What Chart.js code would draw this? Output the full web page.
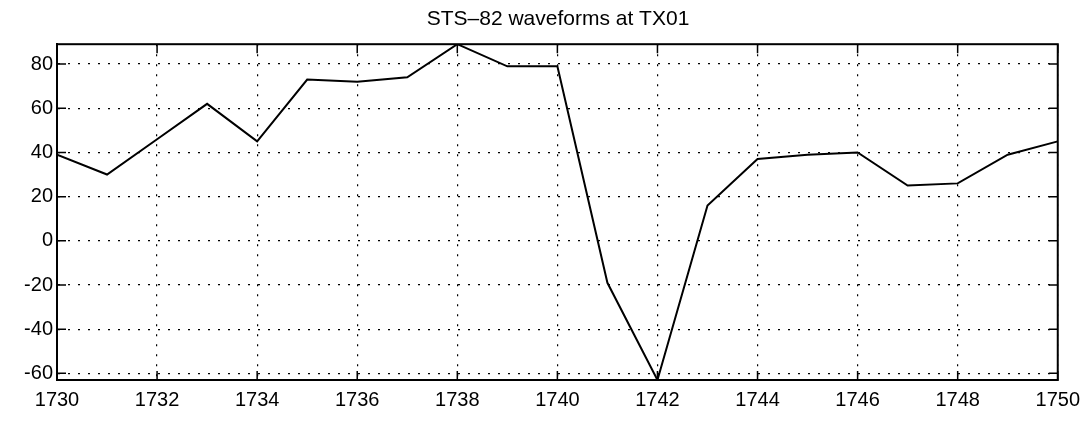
<!DOCTYPE html>
<html>
<head>
<meta charset="utf-8">
<script src="https://cdn.jsdelivr.net/npm/chart.js@4.4.1/dist/chart.umd.min.js"></script>
<style>
  html, body { margin: 0; padding: 0; background: #ffffff; }
  #wrap { width: 1088px; height: 423px; position: relative; }
</style>
</head>
<body>
<div id="wrap"><canvas id="c" width="1088" height="423"></canvas></div>
<script>
const titleText = "STS\u201382 waveforms at TX01";
const years = [1730,1731,1732,1733,1734,1735,1736,1737,1738,1739,1740,1741,1742,1743,1744,1745,1746,1747,1748,1749,1750];
const values = [39, 30, 46, 62, 45, 73, 72, 74, 89, 79, 79, -19, -63, 16, 37, 39, 40, 25, 26, 39, 45];
const xTicks = [1730,1732,1734,1736,1738,1740,1742,1744,1746,1748,1750];
const yTicks = [-60,-40,-20,0,20,40,60,80];
const yMin = -63, yMax = 89;

const shiftTitle = {
  id: 'shiftTitle',
  afterLayout(chart) {
    const t = chart.titleBlock;
    if (t) { t.left += 29; t.right += 29; }
  }
};

const inwardTicks = {
  id: 'inwardTicks',
  afterDraw(chart) {
    const ctx = chart.ctx, a = chart.chartArea;
    const xs = chart.scales.x, ys = chart.scales.y;
    const L = 9;
    ctx.save();
    ctx.strokeStyle = '#000';
    ctx.lineWidth = 1.5;
    ctx.setLineDash([]);
    ctx.beginPath();
    xTicks.forEach(v => {
      const px = xs.getPixelForValue(v);
      ctx.moveTo(px, a.bottom); ctx.lineTo(px, a.bottom - L);
      ctx.moveTo(px, a.top); ctx.lineTo(px, a.top + L);
    });
    yTicks.forEach(v => {
      const py = ys.getPixelForValue(v);
      ctx.moveTo(a.left, py); ctx.lineTo(a.left + L, py);
      ctx.moveTo(a.right, py); ctx.lineTo(a.right - L, py);
    });
    ctx.stroke();
    ctx.lineWidth = 2;
    ctx.strokeRect(a.left, a.top, a.right - a.left, a.bottom - a.top);
    ctx.restore();
  }
};

new Chart(document.getElementById('c'), {
  type: 'line',
  data: {
    datasets: [{
      data: years.map((x, i) => ({ x: x, y: values[i] })),
      borderColor: '#000',
      borderWidth: 2,
      pointRadius: 0,
      tension: 0,
      fill: false
    }]
  },
  options: {
    responsive: false,
    animation: false,
    layout: { padding: { left: 0, right: 30, top: 0, bottom: 0 } },
    plugins: {
      legend: { display: false },
      tooltip: { enabled: false },
      title: {
        display: true,
        text: titleText,
        color: '#000',
        font: { family: 'Liberation Sans, Arial, sans-serif', size: 21, weight: 'normal' },
        padding: { top: 7, bottom: 12 }
      }
    },
    scales: {
      x: {
        type: 'linear',
        min: 1730, max: 1750,
        afterBuildTicks: s => { s.ticks = xTicks.map(v => ({ value: v })); },
        afterFit: s => { s.height = 43; },
        grid: { color: '#000', lineWidth: 1.2, drawTicks: false },
        border: { display: true, color: '#000', width: 2, dash: [2, 8] },
        ticks: {
          color: '#000', padding: 8, maxRotation: 0, autoSkip: false,
          font: { family: 'Liberation Sans, Arial, sans-serif', size: 20 },
          callback: v => String(v)
        }
      },
      y: {
        type: 'linear',
        min: yMin, max: yMax,
        afterBuildTicks: s => { s.ticks = yTicks.map(v => ({ value: v })); },
        afterFit: s => { s.width = 57; },
        grid: { color: '#000', lineWidth: 1.2, drawTicks: false },
        border: { display: true, color: '#000', width: 2, dash: [2, 8] },
        ticks: {
          color: '#000', padding: 4, autoSkip: false,
          font: { family: 'Liberation Sans, Arial, sans-serif', size: 20 },
          callback: v => String(v)
        }
      }
    }
  },
  plugins: [shiftTitle, inwardTicks]
});
</script>
</body>
</html>
